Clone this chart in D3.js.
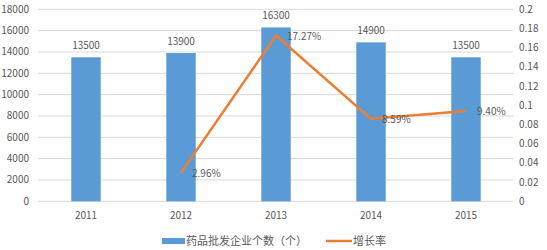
<!DOCTYPE html>
<html><head><meta charset="utf-8">
<script src="https://cdn.jsdelivr.net/npm/d3@7"></script>
<style>body{margin:0;background:#fff;} text{font-family:"Noto Sans CJK SC","Noto Sans",sans-serif;fill:#595959;}</style>
</head><body><svg id="c" width="547" height="250"></svg>
<script>
const years = ["2011","2012","2013","2014","2015"];
const counts = [13500,13900,16300,14900,13500];
const growth = [null,0.0296,0.1727,0.0859,0.0940];
const growthLabels = [null,"2.96%","17.27%","8.59%","9.40%"];
const leftTicks = [0,2000,4000,6000,8000,10000,12000,14000,16000,18000];
const rightTicks = [0,0.02,0.04,0.06,0.08,0.1,0.12,0.14,0.16,0.18,0.2];
const legendNames = ["药品批发企业个数（个）","增长率"];

const svg = d3.select("#c");
const L=38.5, R=513.5, T=9.3, B=201.3;
const x = d3.scaleBand().domain(years).range([L,R]).paddingInner(0.69).paddingOuter(0.345);
const xc = d3.scalePoint().domain(years).range([L,R]).padding(0.5);
const y = d3.scaleLinear().domain([0,18000]).range([B,T]);
const y2 = d3.scaleLinear().domain([0,0.2]).range([B,T]);

// gridlines
svg.append("g").selectAll("line").data(leftTicks).join("line")
  .attr("x1",L).attr("x2",R).attr("y1",d=>y(d)).attr("y2",d=>y(d))
  .attr("stroke","#d9d9d9").attr("stroke-width",1);

// left axis labels
svg.append("g").selectAll("text").data(leftTicks).join("text")
  .attr("x",29).attr("y",d=>y(d)+3.5).attr("text-anchor","end")
  .attr("font-size",10).text(d=>d);
// right axis labels
svg.append("g").selectAll("text").data(rightTicks).join("text")
  .attr("x",519).attr("y",d=>y2(d)+3.5).attr("text-anchor","start")
  .attr("font-size",10).text(d=>d3.format("~g")(+d.toFixed(2)));

// bars
svg.append("g").selectAll("rect").data(counts).join("rect")
  .attr("x",(d,i)=>x(years[i])).attr("width",x.bandwidth())
  .attr("y",d=>y(d)).attr("height",d=>B-y(d)).attr("fill","#5B9BD5");
svg.append("g").selectAll("text").data(counts).join("text")
  .attr("x",(d,i)=>xc(years[i])).attr("y",d=>y(d)-8).attr("text-anchor","middle")
  .attr("font-size",10).text(d=>d);

// x labels
svg.append("g").selectAll("text").data(years).join("text")
  .attr("x",d=>xc(d)).attr("y",219).attr("text-anchor","middle")
  .attr("font-size",10).text(d=>d);

// line
const pts = growth.map((g,i)=>({g,i})).filter(p=>p.g!==null);
svg.append("path").datum(pts)
  .attr("d",d3.line().x(p=>xc(years[p.i])).y(p=>y2(p.g)))
  .attr("fill","none").attr("stroke","#ED7D31").attr("stroke-width",2.5).attr("stroke-linejoin","round");
svg.append("g").selectAll("text").data(pts).join("text")
  .attr("x",p=>xc(years[p.i])+11).attr("y",p=>y2(p.g)+4)
  .attr("font-size",10).text(p=>growthLabels[p.i]);

// legend
const lg = svg.append("g");
lg.append("rect").attr("x",162).attr("y",238).attr("width",23).attr("height",6).attr("fill","#5B9BD5");
lg.append("text").attr("x",186).attr("y",245).attr("font-size",11).text(legendNames[0]);
lg.append("line").attr("x1",326).attr("x2",352).attr("y1",241).attr("y2",241).attr("stroke","#ED7D31").attr("stroke-width",2.5);
lg.append("text").attr("x",353).attr("y",245).attr("font-size",11).text(legendNames[1]);
</script></body></html>
